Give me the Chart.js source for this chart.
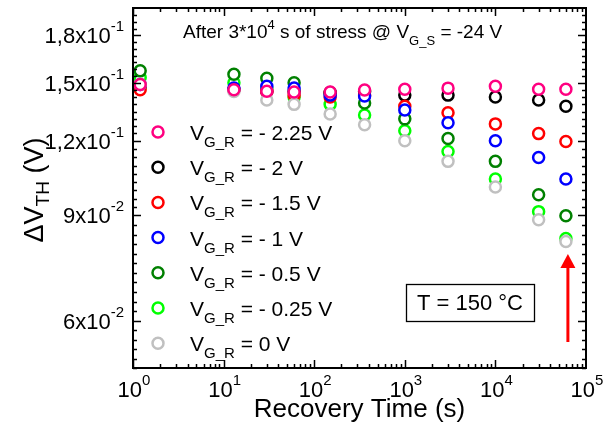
<!DOCTYPE html>
<html>
<head>
<meta charset="utf-8">
<script src="https://cdn.jsdelivr.net/npm/chart.js@4/dist/chart.umd.min.js"></script>
<style>
  html, body { margin: 0; padding: 0; background: #fff; }
</style>
</head>
<body>
<canvas id="myChart" width="603" height="439"></canvas>
<script>
// Recovery times (s)
const times = [1.2, 13, 30, 60, 150, 360, 1000, 3000, 10000, 30000, 60000];

// Delta V_TH (V) for each recovery gate bias
const vgrM225 = [0.149, 0.146, 0.1452, 0.1447, 0.1447, 0.1458, 0.1463, 0.1469, 0.148, 0.1463, 0.1463];
const vgrM2   = [0.148, 0.146, 0.145, 0.145, 0.1445, 0.145, 0.143, 0.143, 0.142, 0.1403, 0.137];
const vgrM15  = [0.146, 0.146, 0.145, 0.143, 0.142, 0.143, 0.137, 0.1336, 0.128, 0.1233, 0.1196];
const vgrM1   = [0.149, 0.147, 0.148, 0.147, 0.143, 0.1425, 0.135, 0.1286, 0.120, 0.1125, 0.1035];
const vgrM05  = [0.157, 0.155, 0.1526, 0.150, 0.144, 0.1387, 0.1305, 0.121, 0.1108, 0.0974, 0.0899];
const vgrM025 = [0.153, 0.150, 0.147, 0.142, 0.138, 0.1325, 0.1247, 0.1151, 0.1035, 0.0913, 0.0823];
const vgr0    = [0.149, 0.145, 0.1403, 0.138, 0.133, 0.1276, 0.120, 0.1108, 0.1004, 0.0885, 0.0814];

const seriesNames = ['= - 2.25 V', '= - 2 V', '= - 1.5 V', '= - 1 V', '= - 0.5 V', '= - 0.25 V', '= 0 V'];

// axis ticks
const xTicks = [1, 10, 100, 1000, 10000, 100000];
const xTickExp = ['0', '1', '2', '3', '4', '5'];
const yTicks = [0.06, 0.09, 0.12, 0.15, 0.18];
const yTickMant = ['6x10', '9x10', '1,2x10', '1,5x10', '1,8x10'];
const yTickExp = ['-2', '-2', '-1', '-1', '-1'];

const FONT = "'Liberation Sans', Arial, sans-serif";

function pts(vals) {
    return vals.map((v, i) => ({ x: times[i], y: v }));
}

// draws a run of text pieces (for super/subscripts)
function drawParts(ctx, parts, x, y, align) {
    let w = 0;
    parts.forEach(p => {
        ctx.font = p.size + 'px ' + FONT;
        p.w = ctx.measureText(p.t).width;
        w += p.w;
    });
    let cx = align === 'right' ? x - w : (align === 'center' ? x - w / 2 : x);
    ctx.textAlign = 'left';
    ctx.textBaseline = 'alphabetic';
    parts.forEach(p => {
        ctx.font = p.size + 'px ' + FONT;
        ctx.fillText(p.t, cx, y + (p.dy || 0));
        cx += p.w;
    });
}

const colors = ['#ff0080', '#000000', '#ff0000', '#0000ff', '#008000', '#00ff00', '#c0c0c0'];
const drawOrder = [0, 4, 3, 2, 5, 6, 1]; // lower = on top

const framePlugin = {
    id: 'frame',
    afterDatasetsDraw(chart) {
        const ctx = chart.ctx;
        const a = chart.chartArea;
        const xs = chart.scales.x, ys = chart.scales.y;
        ctx.save();
        ctx.strokeStyle = '#000';
        ctx.fillStyle = '#000';

        // ticks (inward, all four sides)
        ctx.lineWidth = 1.5;
        ctx.beginPath();
        for (let d = 0; d < 5; d++) {
            for (let m = 1; m < 10; m++) {
                const px = Math.round(xs.getPixelForValue(m * Math.pow(10, d))) + 0.5;
                const len = m === 1 ? 8 : 4;
                ctx.moveTo(px, a.bottom); ctx.lineTo(px, a.bottom - len);
                ctx.moveTo(px, a.top); ctx.lineTo(px, a.top + len);
            }
        }
        const majors = [0.05].concat(yTicks, [0.2]);
        const nMinor = [5, 11, 9, 8, 7, 4];
        for (let k = 0; k < majors.length - 1; k++) {
            const lo = majors[k], hi = majors[k + 1];
            for (let i = 0; i < nMinor[k]; i++) {
                const v = lo * Math.pow(hi / lo, i / nMinor[k]);
                const py = Math.round(ys.getPixelForValue(v)) + 0.5;
                const len = (i === 0 && k > 0) ? 8 : 4;
                ctx.moveTo(a.left, py); ctx.lineTo(a.left + len, py);
                ctx.moveTo(a.right, py); ctx.lineTo(a.right - len, py);
            }
        }
        ctx.stroke();

        // frame
        ctx.lineWidth = 2;
        ctx.strokeRect(a.left, a.top, a.right - a.left, a.bottom - a.top);

        // x tick labels
        xTicks.forEach((t, i) => {
            const px = xs.getPixelForValue(t);
            drawParts(ctx, [{ t: '10', size: 22 }, { t: xTickExp[i], size: 15, dy: -12 }], px + 1, a.bottom + 29, 'center');
        });
        // y tick labels
        yTicks.forEach((t, i) => {
            const py = ys.getPixelForValue(t);
            drawParts(ctx, [{ t: yTickMant[i], size: 22 }, { t: yTickExp[i], size: 15, dy: -12 }], a.left - 9, py + 8, 'right');
        });

        // axis titles
        drawParts(ctx, [{ t: 'Recovery Time (s)', size: 26 }], (a.left + a.right) / 2, 417, 'center');
        ctx.save();
        ctx.translate(43, 190);
        ctx.rotate(-Math.PI / 2);
        drawParts(ctx, [{ t: '\u0394V', size: 27 }, { t: 'TH', size: 19, dy: 6 }, { t: ' (V)', size: 27 }], 0, 0, 'center');
        ctx.restore();

        // title text
        drawParts(ctx, [
            { t: 'After 3*10', size: 19 }, { t: '4', size: 13, dy: -9 },
            { t: ' s of stress @ V', size: 19 }, { t: 'G_S', size: 13, dy: 7 },
            { t: ' = -24 V', size: 19 }
        ], 183, 38, 'left');

        // legend
        seriesNames.forEach((name, i) => {
            const ly = 132 + i * 35.2;
            ctx.beginPath();
            ctx.arc(158, ly, 5.5, 0, Math.PI * 2);
            ctx.fillStyle = '#fff';
            ctx.fill();
            ctx.lineWidth = 2.5;
            ctx.strokeStyle = colors[i];
            ctx.stroke();
            ctx.fillStyle = '#000';
            drawParts(ctx, [{ t: 'V', size: 21 }, { t: 'G_R', size: 15, dy: 7 }, { t: ' ' + name, size: 21 }], 190, ly + 8, 'left');
        });

        // temperature box
        ctx.lineWidth = 1.3;
        ctx.strokeStyle = '#000';
        ctx.strokeRect(406.5, 284.5, 128, 37);
        drawParts(ctx, [{ t: 'T = 150 \u00b0C', size: 22 }], 470, 310, 'center');

        // red arrow at the last recovery time
        const ax = xs.getPixelForValue(times[times.length - 1]) + 2;
        ctx.strokeStyle = '#ff0000';
        ctx.fillStyle = '#ff0000';
        ctx.lineWidth = 3;
        ctx.beginPath();
        ctx.moveTo(ax, 342); ctx.lineTo(ax, 266);
        ctx.stroke();
        ctx.beginPath();
        ctx.moveTo(ax, 254); ctx.lineTo(ax - 7.5, 268); ctx.lineTo(ax + 7.5, 268);
        ctx.closePath();
        ctx.fill();

        ctx.restore();
    }
};

const allSeries = [vgrM225, vgrM2, vgrM15, vgrM1, vgrM05, vgrM025, vgr0];

const ctx = document.getElementById('myChart').getContext('2d');
const chart = new Chart(ctx, {
    type: 'scatter',
    data: {
        datasets: allSeries.map((vals, i) => ({
            label: 'V_G_R ' + seriesNames[i],
            data: pts(vals),
            borderColor: colors[i],
            backgroundColor: '#ffffff',
            pointRadius: 5.5,
            pointBorderWidth: 2.5,
            pointHoverRadius: 5.5,
            order: drawOrder[i],
            clip: false
        }))
    },
    options: {
        responsive: false,
        animation: false,
        layout: { padding: { left: 133, right: 17, top: 4, bottom: 71 } },
        scales: {
            x: { type: 'logarithmic', min: 1, max: 100000, display: false },
            y: { type: 'logarithmic', min: 0.05, max: 0.2, display: false }
        },
        plugins: {
            legend: { display: false },
            tooltip: { enabled: false }
        }
    },
    plugins: [framePlugin]
});
</script>
</body>
</html>
